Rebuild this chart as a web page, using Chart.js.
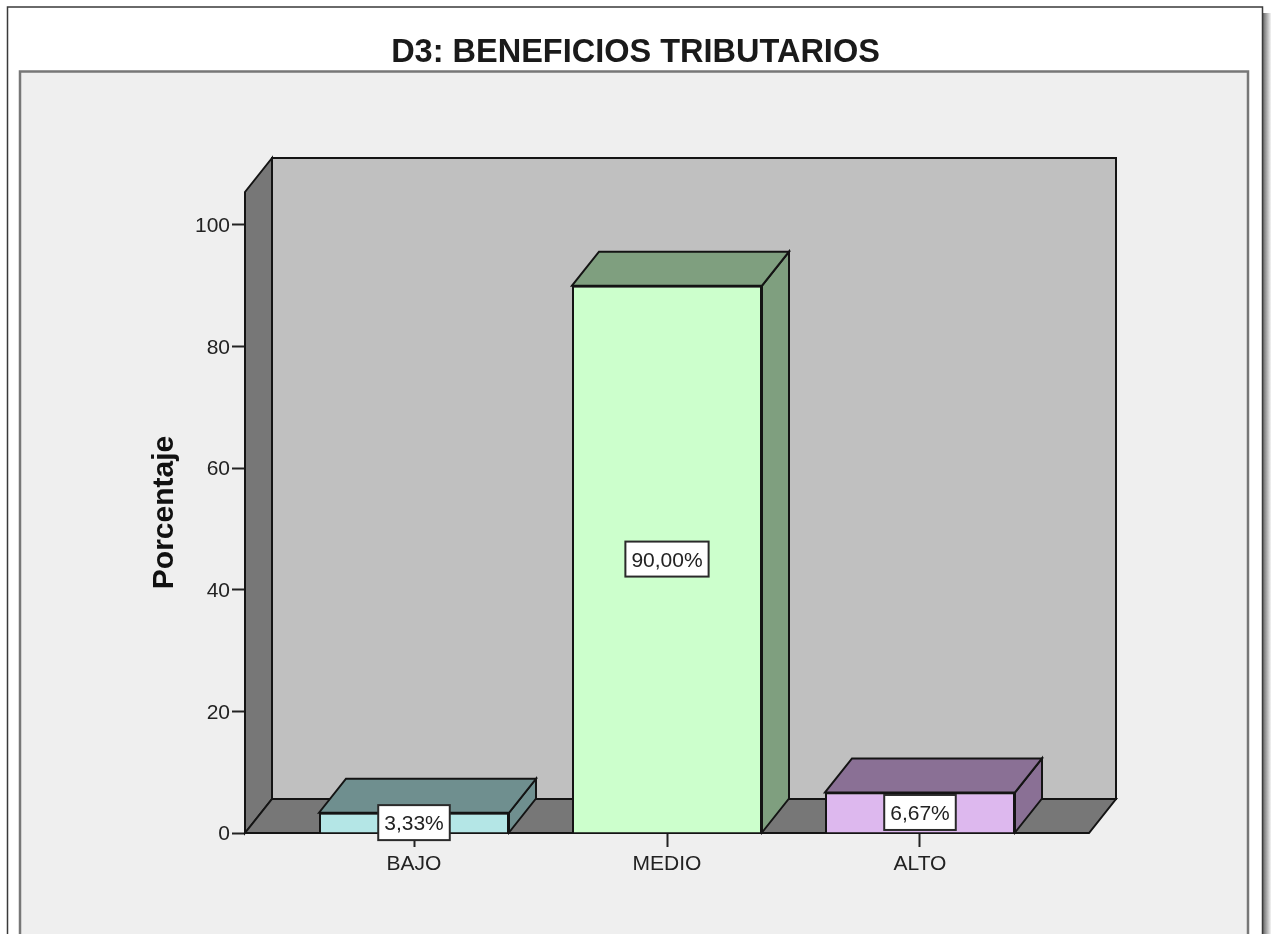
<!DOCTYPE html>
<html>
<head>
<meta charset="utf-8">
<style>
html,body{margin:0;padding:0;background:#fff;overflow:hidden}
canvas{display:block}
</style>
<script src="https://cdn.jsdelivr.net/npm/chart.js@4/dist/chart.umd.js"></script>
</head>
<body>
<canvas id="c" width="1271" height="934"></canvas>
<script>
const titleText = 'D3: BENEFICIOS TRIBUTARIOS';
const yTitle = 'Porcentaje';
const categories = ['BAJO', 'MEDIO', 'ALTO'];
const percentages = [3.33, 90.00, 6.67];
const yTicks = [0, 20, 40, 60, 80, 100];
const frontColors = ['#B4E6E6', '#CCFFCC', '#DDB8EE'];
const sideColors = ['#6F8F8F', '#7F9F7F', '#8A7095'];

const DX = 27, DY = 34;
const LINE = '#141414';

function poly(ctx, pts, fill) {
  ctx.beginPath();
  pts.forEach((p, i) => i ? ctx.lineTo(p[0], p[1]) : ctx.moveTo(p[0], p[1]));
  ctx.closePath();
  if (fill) { ctx.fillStyle = fill; ctx.fill(); }
  ctx.stroke();
}

const scene = {
  id: 'scene',
  beforeDraw(chart) {
    const ctx = chart.ctx, W = chart.width, H = chart.height;
    ctx.save();
    ctx.fillStyle = '#fff';
    ctx.fillRect(0, 0, W, H);
    const g = ctx.createLinearGradient(1263, 0, 1271, 0);
    g.addColorStop(0, '#6a6a6a');
    g.addColorStop(1, '#f4f4f4');
    ctx.fillStyle = g;
    ctx.fillRect(1263, 13, 8, H - 13);
    ctx.strokeStyle = '#3a3a3a';
    ctx.lineWidth = 1.5;
    ctx.beginPath();
    ctx.moveTo(7.5, H); ctx.lineTo(7.5, 7); ctx.lineTo(1262.5, 7); ctx.lineTo(1262.5, H);
    ctx.stroke();
    ctx.fillStyle = '#EFEFEF';
    ctx.fillRect(20, 71, 1228, H - 71);
    ctx.strokeStyle = '#777';
    ctx.lineWidth = 2.5;
    ctx.beginPath();
    ctx.moveTo(20, H); ctx.lineTo(20, 71.5); ctx.lineTo(1248, 71.5); ctx.lineTo(1248, H);
    ctx.stroke();
    ctx.restore();
  },
  beforeDatasetsDraw(chart) {
    const ctx = chart.ctx, a = chart.chartArea;
    const L = a.left, R = a.right, T = a.top, B = a.bottom;
    ctx.save();
    ctx.strokeStyle = LINE;
    ctx.lineWidth = 2;
    ctx.lineJoin = 'miter';
    poly(ctx, [[L + DX, T - DY], [R + DX, T - DY], [R + DX, B - DY], [L + DX, B - DY]], '#C0C0C0');
    poly(ctx, [[L, T], [L + DX, T - DY], [L + DX, B - DY], [L, B]], '#777777');
    poly(ctx, [[L, B], [L + DX, B - DY], [R + DX, B - DY], [R, B]], '#777777');
    const meta = chart.getDatasetMeta(0);
    meta.data.forEach((bar, i) => {
      const l = bar.x - bar.width / 2, r = bar.x + bar.width / 2, t = bar.y, b = bar.base;
      poly(ctx, [[r, t], [r + DX, t - DY], [r + DX, b - DY], [r, b]], sideColors[i]);
      poly(ctx, [[l, t], [l + DX, t - DY], [r + DX, t - DY], [r, t]], sideColors[i]);
    });
    ctx.restore();
  },
  afterDatasetsDraw(chart) {
    const ctx = chart.ctx, meta = chart.getDatasetMeta(0);
    ctx.save();
    ctx.font = '21px "Liberation Sans"';
    ctx.textAlign = 'center';
    ctx.textBaseline = 'middle';
    meta.data.forEach((bar, i) => {
      const txt = percentages[i].toFixed(2).replace('.', ',') + '%';
      const w = ctx.measureText(txt).width + 12, h = 35;
      const cy = (bar.y + bar.base) / 2;
      ctx.fillStyle = '#fff';
      ctx.strokeStyle = '#2a2a2a';
      ctx.lineWidth = 2;
      ctx.fillRect(bar.x - w / 2, cy - h / 2, w, h);
      ctx.strokeRect(bar.x - w / 2, cy - h / 2, w, h);
      ctx.fillStyle = '#222';
      ctx.fillText(txt, bar.x, cy + 2);
    });
    ctx.restore();
  }
};

new Chart(document.getElementById('c'), {
  type: 'bar',
  data: {
    datasets: [{
      data: percentages.map((v, i) => ({ x: i, y: v })),
      backgroundColor: frontColors,
      borderColor: LINE,
      borderWidth: 2,
      barPercentage: 0.751,
      categoryPercentage: 1
    }]
  },
  plugins: [scene],
  options: {
    responsive: false,
    animation: false,
    events: [],
    layout: { padding: { left: 182, right: 182, top: 0, bottom: 0 } },
    plugins: {
      legend: { display: false },
      tooltip: { enabled: false },
      title: {
        display: true,
        text: titleText,
        color: '#1a1a1a',
        font: { family: '"Liberation Sans"', size: 32.5, weight: 'bold', lineHeight: 1 },
        padding: { top: 37, bottom: 122.5 }
      }
    },
    scales: {
      x: {
        type: 'linear',
        offset: false,
        min: -0.668,
        max: 2.668,
        afterBuildTicks(s) { s.ticks = categories.map((_, i) => ({ value: i })); },
        afterFit(s) { s.height = 101; },
        border: { display: false },
        grid: { offset: false, drawOnChartArea: false, tickLength: 14, tickColor: '#222', tickWidth: 2 },
        ticks: {
          autoSkip: false, maxRotation: 0, padding: 5,
          color: '#222',
          font: { family: '"Liberation Sans"', size: 21 },
          callback: v => categories[v]
        }
      },
      y: {
        min: 0,
        max: 105.4,
        afterBuildTicks(s) { s.ticks = yTicks.map(v => ({ value: v })); },
        afterFit(s) { s.width = 63; },
        border: { display: false },
        grid: { drawOnChartArea: false, tickLength: 13, tickColor: '#222', tickWidth: 2 },
        title: {
          display: true,
          text: yTitle,
          color: '#111',
          font: { family: '"Liberation Sans"', size: 30, weight: 'bold' },
          padding: { top: -35, bottom: 0 }
        },
        ticks: {
          padding: 2,
          labelOffset: 1.5,
          color: '#222',
          font: { family: '"Liberation Sans"', size: 21 }
        }
      }
    }
  }
});
</script>
</body>
</html>
